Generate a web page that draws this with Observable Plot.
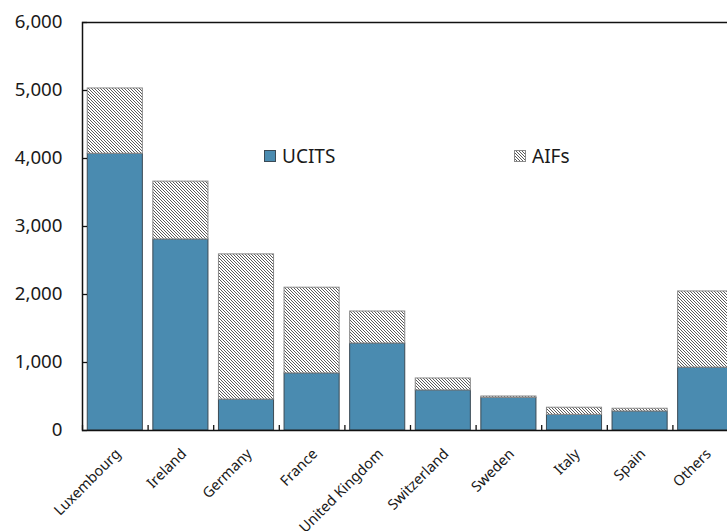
<!DOCTYPE html>
<html><head><meta charset="utf-8">
<script src="https://cdn.jsdelivr.net/npm/d3@7"></script>
<script src="https://cdn.jsdelivr.net/npm/@observablehq/plot@0.6"></script>
<style>
html,body{margin:0;padding:0;background:#fff;overflow:hidden;}
#wrap{position:relative;width:727px;height:531px;overflow:hidden;font-family:"Noto Sans",sans-serif;color:#1a1a1a;}
#wrap svg{position:absolute;left:0;top:0;overflow:hidden;}
.lg{position:absolute;display:flex;align-items:center;font-size:19px;line-height:28px;white-space:nowrap;}
.sw{display:inline-block;width:12px;height:12px;margin-right:6px;box-sizing:border-box;}
</style></head>
<body><div id="wrap"></div>
<script>
const categories = ["Luxembourg","Ireland","Germany","France","United Kingdom","Switzerland","Sweden","Italy","Spain","Others"];
const ucits = [4070, 2810, 455, 840, 1280, 590, 480, 230, 280, 925];
const aifs  = [960, 850, 2135, 1260, 470, 175, 20, 105, 40, 1120];
const yTicks = [0, 1000, 2000, 3000, 4000, 5000, 6000];
const seriesNames = ["UCITS", "AIFs"];
const seriesFills = ["#4a8bb0", "url(#hatch)"];

const W = 727, H = 531, mL = 82, mT = 22, mB = 101, mR = -11;
const step = (W - mR - mL) / categories.length;

const ucitsRows = categories.map((c, i) => ({country: c, type: "UCITS", y1: 0, y2: ucits[i]}));
const aifRows = categories.map((c, i) => ({country: c, type: "AIFs", y1: ucits[i], y2: ucits[i] + aifs[i]}));

const chart = Plot.plot({
  width: W, height: H,
  marginLeft: mL, marginTop: mT, marginBottom: mB, marginRight: mR,
  style: {fontFamily: "Noto Sans, sans-serif", color: "#1a1a1a", background: "white"},
  x: {type: "band", domain: categories, range: [mL, W - mR], paddingInner: 0.16, paddingOuter: 0.08, round: false, label: null},
  y: {domain: [0, 6000], label: null},
  color: {domain: seriesNames, range: seriesFills},
  marks: [
    Plot.barY(ucitsRows, {x: "country", y1: "y1", y2: "y2", fill: "type", stroke: "#3b4a55", strokeWidth: 1}),
    Plot.barY(aifRows, {x: "country", y1: "y1", y2: "y2", fill: "type", stroke: "#8a8a8a", strokeWidth: 1}),
    Plot.frame({stroke: "#111", strokeWidth: 1.5}),
    Plot.axisY({ticks: yTicks, tickSize: 0, tickPadding: 20, tickFormat: d3.format(","), fontSize: 18.7, label: null}),
    Plot.axisY({ticks: yTicks, tickSize: 5, dx: 5, tickFormat: () => "", label: null, stroke: "#111", strokeWidth: 1.3}),
    Plot.axisX({tickSize: 0, tickRotate: -45, tickPadding: 21, dx: 3, fontSize: 14.5, label: null}),
    Plot.axisX({tickSize: 5, dx: -step / 2, dy: -5, tickFormat: () => "", label: null, stroke: "#111", strokeWidth: 1.3})
  ]
});

chart.insertAdjacentHTML("afterbegin",
  '<defs><pattern id="hatch" patternUnits="userSpaceOnUse" width="3" height="3">' +
  '<rect width="3" height="3" fill="white"/>' +
  '<path d="M-1,-1 L4,4 M-1,2 L1,4 M2,-1 L4,1" stroke="#5a5a5a" stroke-width="1"/></pattern></defs>');

const wrap = document.getElementById("wrap");
wrap.appendChild(chart);

const legendPos = [[264, 142], [514, 142]];
seriesNames.forEach((name, i) => {
  const d = document.createElement("div");
  d.className = "lg";
  d.style.left = legendPos[i][0] + "px";
  d.style.top = legendPos[i][1] + "px";
  const sw = document.createElement("span");
  sw.className = "sw";
  if (i === 0) { sw.style.background = seriesFills[0]; sw.style.border = "1px solid #3b4a55"; }
  else {
    sw.style.border = "1px solid #8a8a8a";
    sw.style.background = "repeating-linear-gradient(45deg, #fff 0px, #fff 1.1px, #5a5a5a 1.1px, #5a5a5a 2.1px)";
  }
  d.appendChild(sw);
  const t = document.createElement("span");
  t.textContent = name;
  d.appendChild(t);
  wrap.appendChild(d);
});
</script></body></html>
